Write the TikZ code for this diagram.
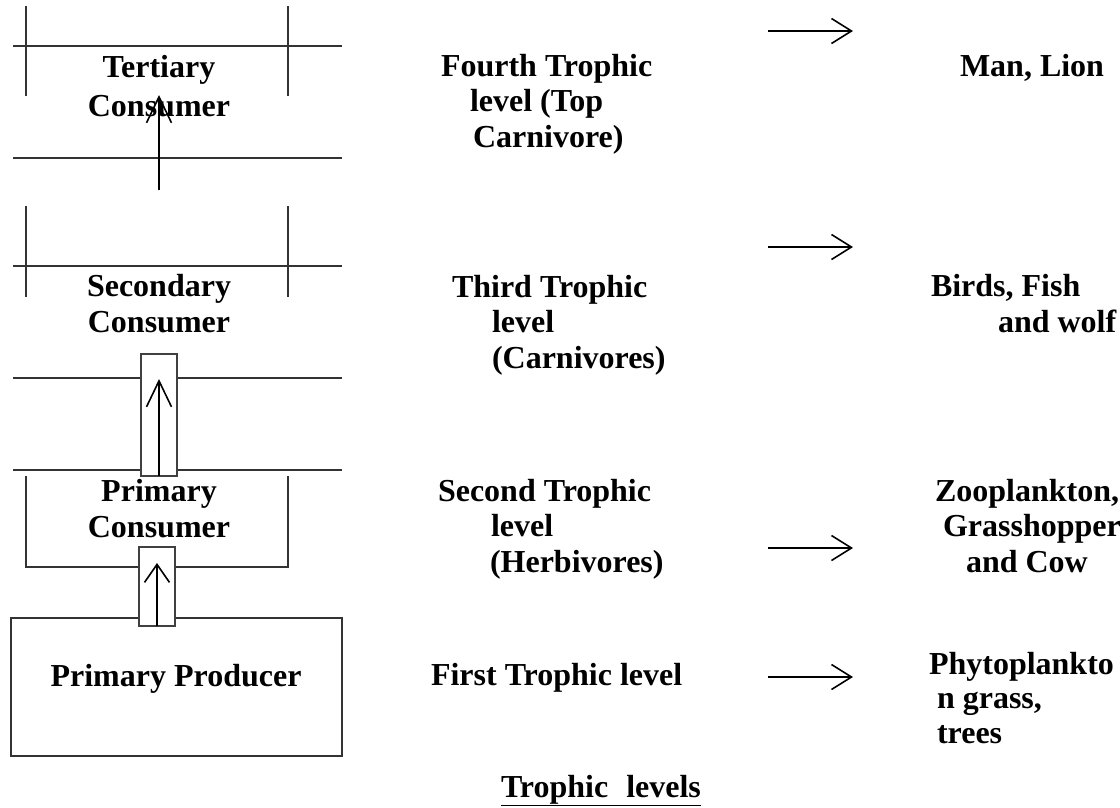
\documentclass[tikz,border=0pt]{standalone}
\usepackage{fontspec}
\setmainfont{Liberation Serif}
\usetikzlibrary{arrows.meta}
\begin{document}
\begin{tikzpicture}[x=1pt,y=-1pt,
  txt/.style={font=\fontsize{32}{35.5}\selectfont\bfseries, inner sep=0pt, outer sep=0pt},
  lbl/.style={txt, anchor=base west, align=left},
  ctr/.style={txt, anchor=base, align=center},
  rule/.style={line width=1.3pt, draw=black!80},
  slot/.style={line width=1.1pt, draw=black!75, fill=white},
  upflow/.style={line width=1.6pt, -{Straight Barb[length=26pt,width=25pt,line width=1.6pt]}},
  upflowshort/.style={line width=1.6pt, -{Straight Barb[length=18pt,width=25pt,line width=1.6pt]}},
  rightflow/.style={line width=1.6pt, -{Straight Barb[length=20pt,width=25pt,line width=1.6pt]}}]
\useasboundingbox (0,0) rectangle (1120,807);

% ---- Tertiary consumer level frame
\draw[rule] (26,6) -- (26,96);
\draw[rule] (288,6) -- (288,96);
\draw[rule] (13,46) -- (342,46);
\draw[rule] (13,158) -- (342,158);
% ---- Secondary consumer level frame
\draw[rule] (26,206) -- (26,297);
\draw[rule] (288,206) -- (288,297);
\draw[rule] (13,266) -- (342,266);
\draw[rule] (13,378) -- (342,378);
\draw[rule] (13,470) -- (342,470);
% ---- Primary consumer box (open top)
\draw[rule] (26,476) -- (26,567) -- (288,567) -- (288,476);
% ---- Primary producer box
\node[rule, draw, minimum width=331pt, minimum height=138pt, inner sep=0pt] (prodbox) at (176.5,687) {};

% ---- small slots around arrows
\node[slot, draw, minimum width=36pt, minimum height=122pt, inner sep=0pt] (slotA) at (159,415) {};
\node[slot, draw, minimum width=36pt, minimum height=79pt, inner sep=0pt] (slotB) at (157,586.5) {};

% ---- Left column labels (anchor = baseline of last line)
\node[ctr, font=\fontsize{32}{39}\selectfont\bfseries] (tert) at (159,116) {Tertiary\\Consumer};
\node[ctr] (sec) at (159,332) {Secondary\\Consumer};
\node[ctr] (prim) at (159,537) {Primary\\Consumer};
\node[ctr] (prod) at (176,686) {Primary Producer};

% ---- vertical arrows
\coordinate (a1s) at (159,190);
\coordinate (a1e) at (159,95);
\coordinate (a2s) at (159,476);
\coordinate (a2e) at (159,379);
\coordinate (a3s) at (157,626);
\coordinate (a3e) at (157,563);
\draw[upflow] (a1s) -- (a1e);
\draw[upflow] (a2s) -- (a2e);
\draw[upflowshort] (a3s) -- (a3e);

% ---- Middle column labels
\node[lbl] (fourth) at (441,147) {Fourth Trophic\\\hspace*{29pt}level (Top\\\hspace*{32pt}Carnivore)};
\node[lbl] (third) at (452,368) {Third Trophic\\\hspace*{40pt}level\\\hspace*{40pt}(Carnivores)};
\node[lbl] (second) at (438,572) {Second Trophic\\\hspace*{53pt}level\\\hspace*{52pt}(Herbivores)};
\node[lbl] (first) at (431,685) {First Trophic level};

% ---- right arrows
\coordinate (r1s) at (768,31);  \coordinate (r1e) at (853,31);
\coordinate (r2s) at (768,247); \coordinate (r2e) at (853,247);
\coordinate (r3s) at (768,548); \coordinate (r3e) at (853,548);
\coordinate (r4s) at (768,677); \coordinate (r4e) at (853,677);
\draw[rightflow] (r1s) -- (r1e);
\draw[rightflow] (r2s) -- (r2e);
\draw[rightflow] (r3s) -- (r3e);
\draw[rightflow] (r4s) -- (r4e);

% ---- Right column labels
\node[lbl] (ex4) at (960,76) {Man, Lion};
\node[lbl] (ex3) at (931,332) {Birds, Fish\\\hspace*{67pt}and wolf};
\node[lbl] (ex2) at (935,572) {Zooplankton,\\\hspace*{8pt}Grasshopper\\\hspace*{31pt}and Cow};
\node[lbl, font=\fontsize{32}{34.5}\selectfont\bfseries] (ex1) at (929,743) {Phytoplankto\\\hspace*{8pt}n grass,\\\hspace*{8pt}trees};

% ---- Title
\node[lbl] (title) at (501,797) {\underline{Trophic\hspace{18pt}levels}};
\end{tikzpicture}
\end{document}
